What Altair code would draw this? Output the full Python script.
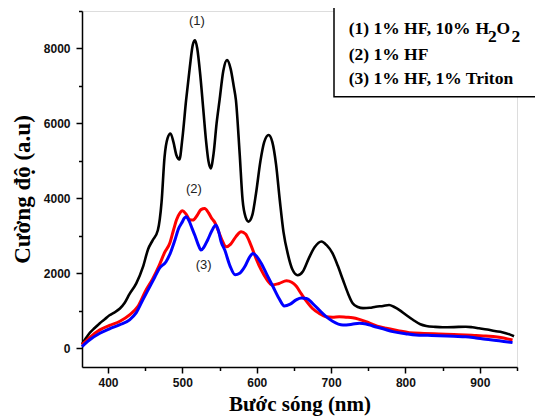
import altair as alt
import pandas as pd

# ---- data ----
wl_1 = [365, 370, 375, 382, 389, 396, 402, 409, 416, 422, 429, 438, 447, 454, 460, 467, 472, 476, 480, 484,
        488, 492, 496, 500, 505, 510, 514, 517, 520, 524, 528, 532, 535, 538, 542, 546, 550, 555, 560, 565,
        569, 572, 577, 581, 585, 589, 594, 599, 605, 610, 616, 621, 626, 631, 636, 642, 648, 655, 662, 670,
        678, 687, 694, 702, 709, 716, 723, 729, 736, 743, 752, 760, 770, 778, 785, 792, 800, 810, 820, 828,
        840, 850, 865, 881, 890, 899, 910, 920, 930, 940, 946]
int_1 = [110, 260, 400, 540, 670, 780, 880, 960, 1060, 1200, 1450, 1730, 2170, 2650, 2880, 3150, 3900, 5100, 5600, 5730,
         5500, 5150, 5040, 5600, 6620, 7500, 8100, 8220, 8000, 7300, 6400, 5500, 5000, 4800, 5200, 6000, 6620, 7400, 7690, 7450,
         7000, 6620, 5200, 3950, 3500, 3380, 3550, 4130, 5000, 5500, 5690, 5500, 4900, 3950, 3100, 2500, 2100, 1950, 2050, 2400,
         2700, 2850, 2750, 2530, 2200, 1820, 1450, 1200, 1100, 1070, 1080, 1110, 1130, 1155, 1100, 1020, 900, 760, 640, 595,
         570, 560, 565, 576, 560, 533, 500, 460, 430, 370, 320]

wl_2 = [365, 375, 389, 402, 416, 429, 440, 451, 460, 469, 476, 483, 488, 492, 497, 500, 505, 510, 514, 520,
        525, 530, 535, 540, 543, 548, 553, 559, 565, 572, 579, 585, 592, 599, 606, 613, 621, 630, 640, 647,
        653, 660, 667, 675, 684, 693, 702, 711, 720, 729, 738, 747, 756, 765, 774, 790, 805, 825, 845, 865,
        881, 895, 908, 926, 944]
int_2 = [90, 280, 490, 610, 720, 890, 1110, 1550, 1850, 2220, 2550, 2800, 3150, 3420, 3620, 3670, 3580, 3430, 3420, 3550,
         3700, 3730, 3620, 3450, 3380, 3150, 2900, 2710, 2780, 2980, 3110, 3050, 2760, 2400, 2090, 1850, 1690, 1730, 1800, 1760,
         1660, 1450, 1250, 1060, 930, 843, 830, 843, 830, 815, 770, 710, 640, 576, 533, 470, 416, 395, 381, 365,
         355, 340, 328, 293, 221]

wl_3 = [365, 375, 389, 402, 416, 429, 438, 447, 455, 463, 469, 478, 484, 490, 495, 499, 503, 505, 509, 513,
        517, 521, 525, 529, 534, 540, 545, 549, 552, 557, 564, 571, 577, 584, 590, 595, 600, 606, 614, 622,
        630, 637, 645, 653, 660, 667, 675, 684, 693, 702, 716, 728, 738, 747, 756, 770, 783, 800, 814, 830,
        845, 865, 881, 895, 908, 926, 944]
int_3 = [45, 220, 400, 520, 630, 760, 950, 1300, 1600, 1900, 2130, 2310, 2550, 2890, 3200, 3340, 3480, 3510, 3400, 3200,
         3000, 2780, 2620, 2700, 2890, 3150, 3290, 3100, 2850, 2620, 2200, 1960, 2000, 2180, 2420, 2530, 2450, 2270, 1950, 1640,
         1330, 1130, 1180, 1290, 1340, 1330, 1200, 1020, 850, 720, 621, 640, 667, 650, 595, 520, 443, 390, 355, 345,
         336, 320, 309, 275, 240, 203, 150]

x_major = [400, 500, 600, 700, 800, 900]
x_minor = [450, 550, 650, 750, 850, 950]
y_major = [0, 2000, 4000, 6000, 8000]
y_minor = [1000, 3000, 5000, 7000, 9000]

ann_text = ["(1)", "(2)", "(3)"]
ann_x = [519.5, 515.5, 528.5]
ann_y = [8736, 4248, 2221]

legend_parts = ["(1) 1% HF, 10%", "H", "2", "O", "2", "(2) 1% HF", "(3) 1% HF, 1% Triton"]
x_title = "Bước sóng (nm)"
y_title = "Cường độ (a.u)"

W, H = 435, 356
xs = alt.Scale(domain=[365, 950], nice=False, zero=False)
ys = alt.Scale(domain=[-500, 9000], nice=False, zero=False)

d1 = pd.DataFrame({"wl": wl_1, "I": int_1})
d2 = pd.DataFrame({"wl": wl_2, "I": int_2})
d3 = pd.DataFrame({"wl": wl_3, "I": int_3})

common = dict(domainColor="#000", domainWidth=1.5, tickColor="#000", tickWidth=1.5, grid=False)
x_axis = alt.Axis(values=x_major, title=x_title, orient="bottom", tickSize=6, format="d",
                  labelFont="Liberation Sans", labelFontWeight="bold", labelFontSize=12, labelColor="#111",
                  labelPadding=4, titleFont="Liberation Serif", titleFontWeight="bold", titleFontSize=21,
                  titleColor="#000", titlePadding=5, labelFlush=False, **common)
y_axis = alt.Axis(values=y_major, title=y_title, orient="left", tickSize=6, format="d",
                  labelFont="Liberation Sans", labelFontWeight="bold", labelFontSize=12, labelColor="#111",
                  labelPadding=6, titleFont="Liberation Serif", titleFontWeight="bold", titleFontSize=23,
                  titleColor="#000", titlePadding=9, labelFlush=False, **common)
x_axis_minor = alt.Axis(values=x_minor, title=None, orient="bottom", tickSize=3.5, labels=False,
                        domain=False, tickColor="#000", tickWidth=1.5, grid=False)
y_axis_minor = alt.Axis(values=y_minor, title=None, orient="left", tickSize=3.5, labels=False,
                        domain=False, tickColor="#000", tickWidth=1.5, grid=False)

line1 = alt.Chart(d1).mark_line(color="#000000", strokeWidth=2.6, interpolate="monotone").encode(
    x=alt.X("wl:Q", scale=xs, axis=x_axis),
    y=alt.Y("I:Q", scale=ys, axis=y_axis),
)
minor = alt.Chart(d1).mark_line(opacity=0).encode(
    x=alt.X("wl:Q", scale=xs, axis=x_axis_minor),
    y=alt.Y("I:Q", scale=ys, axis=y_axis_minor),
)
line2 = alt.Chart(d2).mark_line(color="#ff0000", strokeWidth=3, interpolate="monotone").encode(
    x=alt.X("wl:Q", scale=xs, axis=None),
    y=alt.Y("I:Q", scale=ys, axis=None),
)
line3 = alt.Chart(d3).mark_line(color="#0000ff", strokeWidth=3, interpolate="monotone").encode(
    x=alt.X("wl:Q", scale=xs, axis=None),
    y=alt.Y("I:Q", scale=ys, axis=None),
)

ann = alt.Chart(pd.DataFrame({"t": ann_text, "x": ann_x, "y": ann_y})).mark_text(
    font="Liberation Sans", fontSize=13, color="#222", baseline="middle", align="center"
).encode(
    x=alt.X("x:Q", scale=xs, axis=None),
    y=alt.Y("y:Q", scale=ys, axis=None),
    text="t:N",
)

# legend box (hand-made, as in the reference)
box = alt.Chart(pd.DataFrame({"a": [0]})).mark_rect(
    fill="white", stroke="#000", strokeWidth=1.5
).encode(x=alt.value(252), x2=alt.value(454.5), y=alt.value(-3.7), y2=alt.value(85.7))

leg_style = dict(font="Liberation Serif", fontWeight="bold", fontSize=17.5, color="#000",
                 align="left", baseline="alphabetic")
leg_x = [266.7, 393.5, 406, 414.4, 429.4, 266.7, 266.7]
leg_y = [23, 23, 30.5, 23, 30.5, 49, 73]
legs = [
    alt.Chart(pd.DataFrame({"t": [legend_parts[i]]})).mark_text(**leg_style).encode(
        x=alt.value(leg_x[i]), y=alt.value(leg_y[i]), text="t:N")
    for i in range(len(legend_parts))
]

chart = alt.layer(line1, minor, line2, line3, ann, box, *legs).resolve_axis(
    x="independent", y="independent"
).properties(
    width=W, height=H,
    autosize=alt.AutoSizeParams(type="none"),
    padding={"left": 74, "top": 3, "right": 18, "bottom": 60},
).configure_view(stroke=None).configure(background="white")

chart.save("out.html", embed_options={"renderer": "svg", "actions": False})
